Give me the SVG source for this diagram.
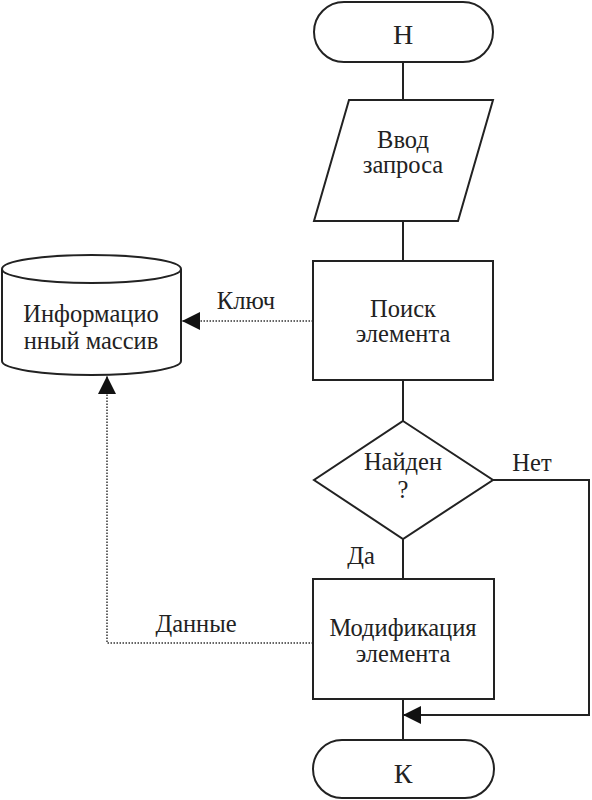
<svg xmlns="http://www.w3.org/2000/svg" width="592" height="800" viewBox="0 0 592 800">
<style>
.s{fill:#fff;stroke:#222;stroke-width:2}
.c{fill:none;stroke:#222;stroke-width:2}
.d{fill:none;stroke:#333;stroke-width:1.5;stroke-dasharray:1.5 1.5}
.t{font-size:24.5px;fill:#222;text-anchor:middle}
.b{font-size:28px;fill:#222;text-anchor:middle}
</style>
<defs>
<marker id="ah" viewBox="0 0 10 10" refX="10" refY="5" markerWidth="18" markerHeight="18" markerUnits="userSpaceOnUse" orient="auto">
<path d="M0,0L10,5L0,10z" fill="#111"/>
</marker>
</defs>
<g id="connectors" font-family="Liberation Serif">
<line class="c" x1="403" y1="62" x2="403" y2="100"/>
<line class="c" x1="403" y1="221" x2="403" y2="261"/>
<line class="c" x1="403" y1="380" x2="403" y2="421"/>
<line class="c" x1="403" y1="539" x2="403" y2="579"/>
<line class="c" x1="403" y1="699" x2="403" y2="740"/>
<polyline class="c" points="493,480 589,480 589,715 403,715" marker-end="url(#ah)"/>
<line class="d" x1="313" y1="321" x2="182" y2="321" marker-end="url(#ah)"/>
<polyline class="d" points="313,643 107,643 107,376" marker-end="url(#ah)"/>
<text class="t" x="246" y="309">Ключ</text>
<text class="t" x="196" y="632">Данные</text>
<text class="t" x="532" y="471">Нет</text>
<text class="t" x="361" y="564">Да</text>
</g>
<g id="start" font-family="Liberation Serif">
<rect class="s" x="314" y="2" width="179" height="60" rx="30"/>
<text class="b" x="403" y="44">Н</text>
</g>
<g id="input" font-family="Liberation Serif">
<polygon class="s" points="349,100 493,100 458,221 314,221"/>
<text class="t" x="403" y="148">Ввод</text>
<text class="t" x="403" y="173">запроса</text>
</g>
<g id="search" font-family="Liberation Serif">
<rect class="s" x="313" y="261" width="180" height="119"/>
<text class="t" x="403" y="317">Поиск</text>
<text class="t" x="403" y="342">элемента</text>
</g>
<g id="found" font-family="Liberation Serif">
<polygon class="s" points="403,421 493,480 403,539 314,480"/>
<text class="t" x="403" y="470">Найден</text>
<text class="t" x="403" y="498">?</text>
</g>
<g id="modify" font-family="Liberation Serif">
<rect class="s" x="313" y="579" width="181" height="120"/>
<text class="t" x="403" y="636">Модификация</text>
<text class="t" x="403" y="662">элемента</text>
</g>
<g id="end" font-family="Liberation Serif">
<rect class="s" x="313" y="740" width="181" height="58" rx="29"/>
<text class="b" x="403" y="783">К</text>
</g>
<g id="storage" font-family="Liberation Serif">
<path class="s" d="M2,269 A89.5,14 0 0 1 181,269 L181,361 A89.5,14 0 0 1 2,361 Z"/>
<path class="c" d="M2,269 A89.5,14 0 0 0 181,269"/>
<text class="t" x="91" y="322">Информацио</text>
<text class="t" x="91" y="349">нный массив</text>
</g>
</svg>
